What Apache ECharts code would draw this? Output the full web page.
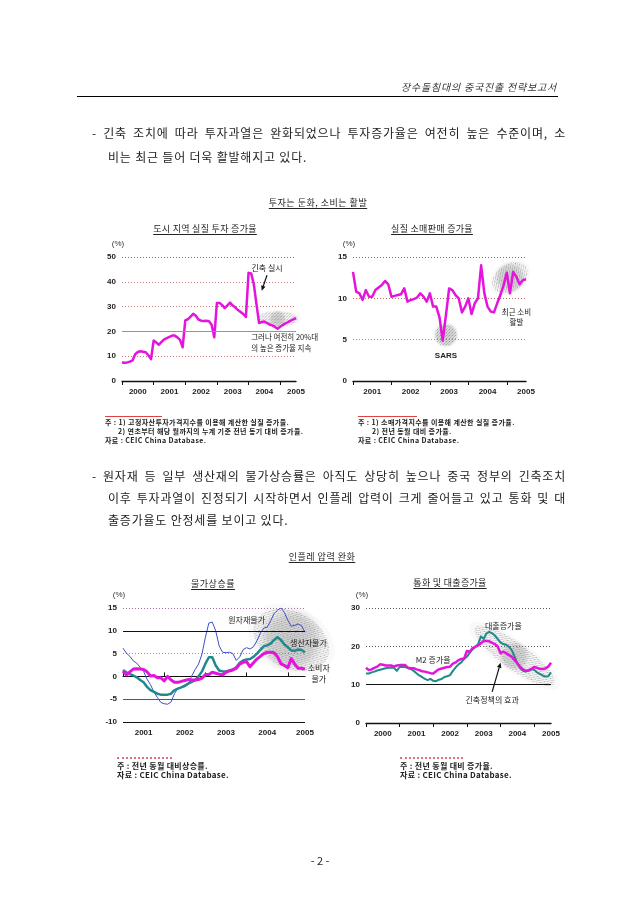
<!DOCTYPE html>
<html><head><meta charset="utf-8">
<script src="https://cdn.jsdelivr.net/npm/echarts@6/dist/echarts.min.js"></script>
<style>
body{margin:0;background:#fff}
#page{position:relative;width:640px;height:905px;background:#fff;overflow:hidden;font-family:"Noto Sans CJK KR",sans-serif;color:#222}
#chart{position:absolute;left:0;top:0;width:640px;height:905px}
.t{position:absolute;white-space:nowrap;line-height:1}
.j{position:absolute;text-align:justify;text-align-last:justify;line-height:1;font-size:12px;color:#222;letter-spacing:0.8px}
.p{font-size:12px;letter-spacing:0.8px}
.u{text-decoration:underline;text-underline-offset:2px;text-align:center;letter-spacing:0.5px}
.fn{font-weight:bold;color:#222;letter-spacing:0.4px}
</style></head><body>
<div id="page">
<div id="chart"></div>

<div class="t" style="right:83px;top:82px;font-size:10px;font-style:italic;color:#333;letter-spacing:0.8px">장수돌침대의 중국진출 전략보고서</div>
<div style="position:absolute;left:77px;top:96px;width:481px;height:1px;background:#000"></div>

<div class="j" style="left:92px;top:127px;width:474px">- 긴축 조치에 따라 투자과열은 완화되었으나 투자증가율은 여전히 높은 수준이며, 소</div>
<div class="t p" style="left:108px;top:151px">비는 최근 들어 더욱 활발해지고 있다.</div>

<div class="t u" style="left:218px;width:200px;top:198px;font-size:9px">투자는 둔화, 소비는 활발</div>
<div class="t u" style="left:105px;width:200px;top:224px;font-size:9px;letter-spacing:0.3px">도시 지역 실질 투자 증가율</div>
<div class="t u" style="left:332px;width:200px;top:224px;font-size:9px;letter-spacing:0.3px">실질 소매판매 증가율</div>

<div style="position:absolute;left:105px;top:416px;width:57px;height:1px;background:#d44"></div>
<div class="t fn" style="left:105px;top:419px;font-size:7px">주 : 1) 고정자산투자가격지수를 이용해 계산한 실질 증가율.</div>
<div class="t fn" style="left:118px;top:428px;font-size:7px">2) 연초부터 해당 월까지의 누계 기준 전년 동기 대비 증가율.</div>
<div class="t fn" style="left:105px;top:437px;font-size:7px">자료 : CEIC China Database.</div>

<div style="position:absolute;left:358px;top:416px;width:59px;height:1px;background:#d44"></div>
<div class="t fn" style="left:358px;top:419px;font-size:7px">주 : 1) 소매가격지수를 이용해 계산한 실질 증가율.</div>
<div class="t fn" style="left:372px;top:428px;font-size:7px">2) 전년 동월 대비 증가율.</div>
<div class="t fn" style="left:358px;top:437px;font-size:7px">자료 : CEIC China Database.</div>

<div class="j" style="left:92px;top:470px;width:474px">- 원자재 등 일부 생산재의 물가상승률은 아직도 상당히 높으나 중국 정부의 긴축조치</div>
<div class="j" style="left:108px;top:492px;width:458px">이후 투자과열이 진정되기 시작하면서 인플레 압력이 크게 줄어들고 있고 통화 및 대</div>
<div class="t p" style="left:108px;top:514px">출증가율도 안정세를 보이고 있다.</div>

<div class="t u" style="left:222px;width:200px;top:552px;font-size:9px">인플레 압력 완화</div>
<div class="t u" style="left:113px;width:200px;top:579px;font-size:9px">물가상승률</div>
<div class="t u" style="left:350px;width:200px;top:578px;font-size:9px;letter-spacing:0.3px">통화 및 대출증가율</div>

<div style="position:absolute;left:117px;top:757px;width:55px;height:0;border-top:2px dotted #e07080"></div>
<div class="t fn" style="left:117px;top:762px;font-size:8px;letter-spacing:0.3px">주 : 전년 동월 대비상승률.</div>
<div class="t fn" style="left:117px;top:771px;font-size:8px;letter-spacing:0.3px">자료 : CEIC China Database.</div>

<div style="position:absolute;left:400px;top:757px;width:63px;height:0;border-top:2px dotted #e07080"></div>
<div class="t fn" style="left:400px;top:762px;font-size:8px;letter-spacing:0.3px">주 : 전년 동월 대비 증가율.</div>
<div class="t fn" style="left:400px;top:771px;font-size:8px;letter-spacing:0.3px">자료 : CEIC China Database.</div>

<div class="t" style="left:270px;width:100px;text-align:center;top:855px;font-size:11px">- 2 -</div>
</div>
<script>
// ---------------- data ----------------
function months(y0, n) { var a = []; for (var i = 0; i < n; i++) { var y = y0 + Math.floor(i / 12), m = i % 12 + 1; a.push(y + '-' + (m < 10 ? '0' : '') + m); } return a; }

var investMonths = months(2000, 67);
var investment = [
  7.5, 7.4, 7.5, 7.8, 8.3, 10.8, 11.7, 12.0, 11.8, 11.6, 10.4, 8.8,
  16.3, 15.5, 14.6, 15.8, 16.8, 17.3, 17.8, 18.3, 18.3, 17.6, 16.6, 13.6,
  24.4, 24.9, 26.0, 27.1, 26.3, 24.8, 24.3, 24.2, 24.3, 24.1, 22.7, 17.6,
  31.5, 31.5, 30.6, 29.4, 30.5, 31.6, 30.4, 29.6, 28.6, 27.8, 27.0, 25.8,
  43.6, 43.4, 39.0, 31.0, 23.4, 23.8, 24.0, 23.4, 22.8, 22.4, 21.8, 21.1,
  21.9, 22.6, 23.2, 23.8, 24.3, 24.9, 25.4
];

var retailMonths = months(2001, 55);
var retail = [
  13.2, 10.8, 10.6, 9.8, 11.0, 10.2, 10.2, 11.0, 11.3, 11.6, 12.1, 11.7,
  10.2, 10.3, 10.4, 10.5, 11.2, 9.6, 9.8, 9.9, 10.1, 10.6, 10.2, 9.6,
  10.6, 9.0, 9.0, 7.7, 4.9, 7.9, 11.2, 11.0, 10.4, 10.0, 8.3, 9.0,
  10.0, 8.1, 9.4, 10.0, 14.0, 10.6, 9.0, 8.4, 8.3, 9.4, 10.4, 11.6,
  13.1, 10.6, 13.2, 12.6, 11.7, 12.2, 12.3
];

var priceMonths = months(2001, 54);
var rawMaterial = [
  6.2, 5.1, 4.4, 3.4, 2.9, 2.0, 1.1, -0.6, -1.8, -3.4, -4.6, -5.7,
  -6.0, -6.1, -5.6, -3.8, -2.5, -2.4, -2.3, -1.8, 0.1, 1.5, 2.7, 4.9,
  8.6, 11.7, 11.9, 10.0, 6.7, 5.3, 5.2, 5.3, 5.0, 3.5, 4.3, 5.9,
  6.3, 6.0, 6.5, 7.8, 9.5, 10.6, 10.8, 12.2, 13.8, 14.5, 15.0, 14.0,
  12.3, 11.0, 11.2, 11.5, 11.1, 9.7
];
var producer = [
  1.4, 0.9, 0.5, 0.2, -0.2, -0.8, -1.3, -2.3, -3.0, -3.4, -3.8, -4.0,
  -4.0, -4.0, -3.8, -3.0, -2.7, -2.4, -2.0, -1.6, -1.2, -0.8, 0.0, 1.1,
  2.8, 4.2, 4.2, 2.4, 1.3, 1.1, 1.1, 1.3, 1.5, 2.0, 3.0, 3.5,
  3.7, 3.8, 4.3, 5.0, 5.8, 6.6, 6.8, 7.2, 8.0, 8.6, 8.0, 7.0,
  6.4, 5.7, 5.6, 5.9, 5.8, 5.3
];
var consumer = [
  1.2, 0.3, 1.0, 1.6, 1.7, 1.6, 1.5, 1.0, 0.1, 0.2, -0.3, -0.3,
  -1.0, 0.0, -0.8, -1.3, -1.3, -1.1, -0.9, -0.7, -0.8, -0.8, -0.7, -0.4,
  0.4, 0.4, 0.9, 0.7, 0.5, 0.3, 0.9, 1.2, 1.4, 1.8, 2.7, 3.1,
  3.2, 2.1, 3.0, 3.8, 4.4, 5.0, 5.3, 5.3, 5.2, 4.3, 2.8, 2.4,
  1.9, 3.9, 2.7, 1.8, 1.8, 1.6
];

var moneyMonths = months(2000, 67);
var m2Growth = [
  14.4, 13.8, 14.0, 14.4, 14.7, 15.3, 15.2, 15.0, 15.0, 15.0, 14.7, 15.0,
  15.1, 15.1, 15.1, 14.4, 14.3, 14.3, 14.0, 13.8, 13.5, 13.4, 13.2, 13.0,
  12.9, 13.5, 14.0, 14.2, 14.4, 14.6, 14.7, 15.5, 15.8, 16.4, 16.7, 16.8,
  18.8, 18.6, 19.5, 19.9, 20.2, 20.8, 21.4, 21.4, 21.3, 20.9, 20.6, 19.9,
  18.2, 18.6, 18.2, 17.7, 17.3, 16.4, 15.6, 14.6, 14.0, 13.6, 13.8, 14.1,
  14.6, 14.4, 14.1, 14.1, 14.2, 14.7, 15.7
];
var loanGrowth = [
  12.9, 12.9, 13.2, 13.4, 13.7, 13.9, 14.1, 14.3, 14.4, 14.4, 14.4, 13.6,
  14.6, 14.7, 14.6, 14.3, 14.1, 13.6, 13.0, 12.4, 12.0, 11.5, 11.2, 11.5,
  11.0, 10.9, 11.3, 11.5, 12.0, 12.2, 12.5, 13.6, 14.5, 15.3, 15.8, 16.7,
  17.3, 18.3, 19.2, 19.8, 20.6, 22.6, 21.9, 23.4, 23.8, 23.4, 22.8, 21.9,
  21.0, 20.6, 20.4, 19.9, 19.0, 17.4, 15.5, 14.3, 13.6, 13.4, 13.6, 14.0,
  13.9, 13.2, 12.8, 12.4, 12.1, 12.2, 13.2
];

// ---------------- styles ----------------
var MAG = '#e414dc', TEAL = '#1f8a8a', BLUE = '#3f4fc8';
var numFont = { fontFamily: 'Liberation Sans, Arial, sans-serif', fontWeight: 'bold', fontSize: 8, color: '#222' };
function isJan(i, v) { return v.slice(5) === '01'; }
function labelIv(cats) { var last = cats.length - 1; return function (i, v) { return v.slice(5) === '07' || i === last; }; }
function yearFmt(v) { return v.slice(0, 4); }

function xCat(grid, cats, opt) {
  var o = {
    type: 'category', gridIndex: grid, data: cats, boundaryGap: false,
    axisLine: { show: true, onZero: false, lineStyle: { color: '#111', width: 1.4 } },
    axisTick: { show: true, interval: isJan, length: 4, lineStyle: { color: '#111', width: 1 } },
    axisLabel: Object.assign({ interval: labelIv(cats), formatter: yearFmt, margin: 7 }, numFont),
    splitLine: { show: false }
  };
  return Object.assign(o, opt || {});
}
function yVal(grid, min, max, step, colors) {
  return {
    type: 'value', gridIndex: grid, min: min, max: max, interval: step,
    name: '(%)', nameLocation: 'end', nameGap: 9,
    nameTextStyle: { fontFamily: 'Liberation Sans, Arial, sans-serif', fontSize: 8, color: '#333', align: 'center', padding: [0, 8, 0, 0] },
    axisLine: { show: false }, axisTick: { show: false },
    axisLabel: Object.assign({ margin: 6 }, numFont),
    splitLine: { show: true, lineStyle: { type: [1, 2], color: colors, width: 1 } }
  };
}
function solidLines(items) {
  return { silent: true, symbol: ['none', 'none'], label: { show: false }, animation: false,
    data: items.map(function (d) { return { yAxis: d[0], lineStyle: { type: 'solid', color: d[1], width: d[2] || 1 } }; }) };
}
function lineSeries(name, xi, yi, data, color, width, extra) {
  return Object.assign({ name: name, type: 'line', xAxisIndex: xi, yAxisIndex: yi, data: data, symbol: 'none',
    lineStyle: { color: color, width: width, join: 'round' }, itemStyle: { color: color } }, extra || {});
}

var option = {
  animation: false,
  grid: [
    { left: 122, top: 257, width: 174, height: 124 },
    { left: 353, top: 257, width: 173, height: 124 },
    { left: 123, top: 608, width: 182, height: 114 },
    { left: 366, top: 608, width: 185, height: 115 }
  ],
  xAxis: [
    xCat(0, investMonths),
    xCat(1, retailMonths),
    xCat(2, priceMonths, { axisLine: { show: false, onZero: false }, axisTick: { show: false }, axisLabel: Object.assign({ interval: labelIv(priceMonths), formatter: yearFmt, margin: 7 }, numFont) }),
    xCat(2, priceMonths, { axisLine: { show: true, onZero: true, lineStyle: { color: '#111', width: 1.2 } }, axisLabel: { show: false } }),
    xCat(3, moneyMonths)
  ],
  yAxis: [
    yVal(0, 0, 50, 10, ['transparent', '#c77878', 'transparent', '#c77878', '#c77878', '#7070a8']),
    yVal(1, 0, 15, 5, ['transparent', '#c77878', '#c06a6a', '#6868b0']),
    yVal(2, -10, 15, 5, ['transparent', 'transparent', 'transparent', '#c77878', 'transparent', '#a070a0']),
    yVal(3, 0, 30, 10, ['transparent', 'transparent', '#555', '#555'])
  ],
  series: [
    lineSeries('도시 지역 실질 투자 증가율', 0, 0, investment, MAG, 2.5, { markLine: solidLines([[20, '#8a96a8']]) }),
    lineSeries('실질 소매판매 증가율', 1, 1, retail, MAG, 2.5),
    lineSeries('원자재물가', 2, 2, rawMaterial, BLUE, 1, { markLine: solidLines([[10, '#111'], [-5, '#4a5880', 1.2], [-10, '#111']]) }),
    lineSeries('생산자물가', 2, 2, producer, TEAL, 2.5),
    lineSeries('소비자물가', 2, 2, consumer, MAG, 3),
    lineSeries('대출증가율', 4, 3, loanGrowth, TEAL, 2),
    lineSeries('M2 증가율', 4, 3, m2Growth, MAG, 2.5, { markLine: solidLines([[10, '#111']]) })
  ]
};

var chart = echarts.init(document.getElementById('chart'), null, { renderer: 'canvas' });
chart.setOption(option);

// ---------------- annotations (placed through the grids' scales) ----------------
function P(g, x, y) { return chart.convertToPixel({ gridIndex: g }, [x, y]); }
var KR = '"Noto Sans CJK KR", sans-serif';
function txt(p, s, o) {
  o = o || {};
  return { type: 'text', x: p[0], y: p[1], z: 20, silent: true,
    style: { text: s, font: o.font || ('8px ' + KR), fill: o.fill || '#222',
      align: o.align || 'center', verticalAlign: 'middle', textAlign: o.align || 'center', textVerticalAlign: 'middle' } };
}
var pc = document.createElement('canvas'); pc.width = 3; pc.height = 3;
var pctx = pc.getContext('2d');
pctx.fillStyle = 'rgba(70,70,70,0.85)'; pctx.fillRect(0, 0, 1, 1);
pctx.fillStyle = 'rgba(110,110,110,0.6)'; pctx.fillRect(2, 1, 1, 1); pctx.fillRect(1, 2, 1, 1);
function blob(p, rx, ry, rot) {
  return [
    { type: 'ellipse', x: p[0], y: p[1], rotation: rot || 0, z: 1, silent: true,
      shape: { cx: 0, cy: 0, rx: rx, ry: ry },
      style: { fill: new echarts.graphic.RadialGradient(0.5, 0.5, 0.5, [
        { offset: 0, color: 'rgba(150,150,150,0.45)' }, { offset: 0.7, color: 'rgba(160,160,160,0.38)' }, { offset: 1, color: 'rgba(180,180,180,0.08)' }]) } },
    { type: 'ellipse', x: p[0], y: p[1], rotation: rot || 0, z: 1, silent: true,
      shape: { cx: 0, cy: 0, rx: rx * 0.88, ry: ry * 0.85 },
      style: { fill: { image: pc, repeat: 'repeat' }, opacity: 0.55 } }
  ];
}
function arrow(a, b) {
  var dx = b[0] - a[0], dy = b[1] - a[1], L = Math.sqrt(dx * dx + dy * dy), ux = dx / L, uy = dy / L;
  var hl = 5, hw = 2.3, bx = b[0] - ux * hl, by = b[1] - uy * hl;
  return [
    { type: 'line', z: 20, silent: true, shape: { x1: a[0], y1: a[1], x2: bx, y2: by }, style: { stroke: '#111', lineWidth: 1.2 } },
    { type: 'polygon', z: 20, silent: true, shape: { points: [[b[0], b[1]], [bx - uy * hw, by + ux * hw], [bx + uy * hw, by - ux * hw]] }, style: { fill: '#111' } }
  ];
}

var els = [];
// chart 1
els = els.concat(blob(P(0, 59, 25), 23.5, 9, 0));
els.push(txt(P(0, 55, 45.6), '긴축 실시'));
els = els.concat(arrow(P(0, 54.5, 42.7), P(0, 53.0, 36.4)));
els.push(txt(P(0, 49.3, 17.7), '그러나 여전히 20%대', { align: 'left', font: '7.5px ' + KR }));
els.push(txt(P(0, 49.3, 13.2), '의 높은 증가율 지속', { align: 'left', font: '7.5px ' + KR }));
// chart 2
els = els.concat(blob(P(1, 28.6, 5.56), 12.5, 13, 0));
els.push(txt(P(1, 29, 3.0), 'SARS', { font: 'bold 8px Liberation Sans, Arial, sans-serif' }));
els = els.concat(blob(P(1, 49.2, 12.5), 22, 16, 0.6));
els.push(txt(P(1, 50.6, 8.35), '최근 소비', { font: '7.5px ' + KR }));
els.push(txt(P(1, 50.9, 7.1), '활발', { font: '7.5px ' + KR }));
// chart 3
els = els.concat(blob(P(2, 48.6, 8.0), 46, 33, -0.5));
els.push(txt(P(2, 36.4, 12.4), '원자재물가'));
els.push(txt(P(2, 53.6, 7.3), '생산자물가'));
els.push(txt(P(2, 57.4, 1.8), '소비자'));
els.push(txt(P(2, 57.4, -0.6), '물가'));
// chart 4
els = els.concat(blob(P(3, 53.0, 17.5), 55, 15.5, -0.62));
els.push(txt(P(3, 49.2, 25.3), '대출증가율'));
els.push(txt(P(3, 23.9, 16.4), 'M2 증가율'));
els.push(txt(P(3, 45, 6.0), '긴축정책의 효과'));
els = els.concat(arrow(P(3, 45.3, 8.1), P(3, 48.2, 15.7)));

chart.setOption({ graphic: { elements: els } });
</script>
</body></html>
